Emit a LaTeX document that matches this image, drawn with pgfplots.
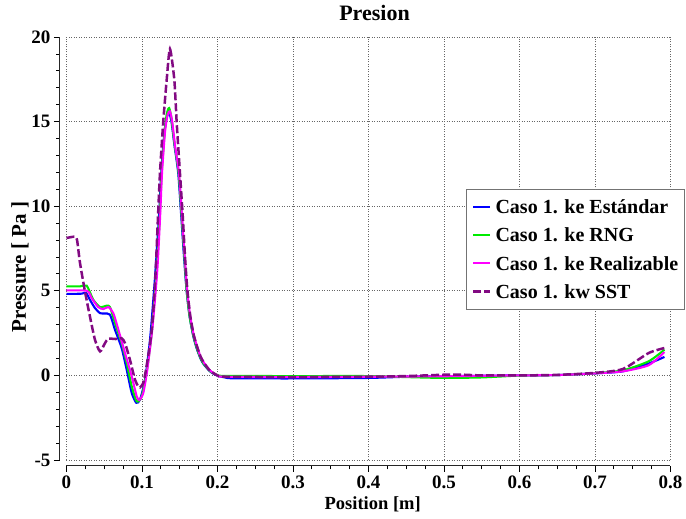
\documentclass[border=0pt]{standalone}
\usepackage{fontspec}
\setmainfont{Liberation Serif}
\usepackage{pgfplots}
\pgfplotsset{compat=1.18}
\definecolor{cblue}{RGB}{0,0,255}
\definecolor{cgreen}{RGB}{0,235,0}
\definecolor{cpink}{RGB}{255,0,255}
\definecolor{cpur}{RGB}{130,10,130}
\begin{document}
\begin{tikzpicture}
\begin{axis}[
 scale only axis, width=604pt, height=423pt,
 xmin=0, xmax=0.8, ymin=-5, ymax=20,
 axis lines=left, axis line style={-, line width=1pt, black!85},
 axis x line shift=6pt, axis y line shift=6.5pt,
 xtick={0,0.1,0.2,0.3,0.4,0.5,0.6,0.7,0.8},
 ytick={-5,0,5,10,15,20},
 minor x tick num=3, minor y tick num=4,
 tick align=outside, major tick length=6pt, minor tick length=3.5pt,
 tick style={black, line width=0.8pt},
 grid=major, major grid style={black!60, line width=0.8pt, dash pattern=on 1pt off 1.5pt},
 /pgf/number format/assume math mode=true,
 ticklabel style={font=\fontsize{19}{21}\selectfont\bfseries},
 title={Presion},
 title style={font=\fontsize{22}{26}\selectfont\bfseries, at={(axis description cs:0.51,1.042)}, anchor=center},
 xlabel={Position [m]},
 xlabel style={font=\fontsize{18.5}{20}\selectfont\bfseries, at={(axis description cs:0.507,-0.104)}, anchor=center},
 ylabel={Pressure [ Pa ]},
 ylabel style={font=\fontsize{21}{24}\selectfont\bfseries, at={(axis description cs:-0.077,0.456)}, anchor=center},
 legend style={at={(axis description cs:0.661,0.641)}, anchor=north west, draw=black!55, line width=1.2pt, fill=white,
   inner xsep=6pt, inner ysep=3.3pt, row sep=0pt, column sep=4pt,
   font=\fontsize{20}{22}\selectfont\bfseries,
   nodes={inner sep=0pt, text height=20.65pt, text depth=7.65pt}},
 legend cell align=left,
 legend image code/.code={\draw[#1, line width=2.2pt] (0pt,0.3pt) -- (17pt,0.3pt);},
]
\addplot[color=cblue, line width=2.1pt, smooth, tension=0.4] coordinates {
(0,4.82)(0.01,4.82)(0.02,4.83)(0.026,4.87)(0.031,4.47)(0.0377,3.98)(0.0444,3.68)(0.05,3.66)(0.0576,3.59)(0.0642,2.7)(0.073,1.62)(0.0797,0.34)(0.0864,-1.04)(0.0925,-1.62)(0.0974,-1.43)(0.104,-0.25)(0.1106,2.11)(0.117,5.65)(0.1225,9.4)(0.1255,11.95)(0.1295,14.3)(0.133,15.3)(0.136,15.5)(0.139,15.0)(0.143,13.6)(0.148,11.95)(0.152,9.4)(0.1555,7.1)(0.159,5.06)(0.163,3.5)(0.168,2.3)(0.1724,1.6)(0.177,1.05)(0.181,0.7)(0.19,0.24)(0.2,-0.02)(0.21,-0.12)(0.22,-0.17)(0.3,-0.18)(0.4,-0.15)(0.45,-0.08)(0.5,-0.05)(0.6,0)(0.65,0.02)(0.7,0.12)(0.737,0.24)(0.771,0.7)(0.792,1.09)
};
\addlegendentry{Caso 1. ke Estándar}
\addplot[color=cgreen, line width=2.1pt, smooth, tension=0.4] coordinates {
(0,5.26)(0.018,5.26)(0.0268,5.3)(0.0355,4.47)(0.0444,4.04)(0.0532,4.12)(0.0576,4.04)(0.0642,3.1)(0.073,1.91)(0.0797,0.73)(0.0864,-0.65)(0.092,-1.45)(0.0945,-1.55)(0.0996,-1.24)(0.106,0.14)(0.1128,2.5)(0.1195,6.24)(0.1235,9.4)(0.126,11.95)(0.13,14.4)(0.133,15.5)(0.136,15.8)(0.139,15.2)(0.143,13.7)(0.1485,11.95)(0.1525,9.4)(0.156,7.1)(0.159,5.1)(0.163,3.5)(0.168,2.35)(0.1724,1.65)(0.177,1.08)(0.181,0.73)(0.19,0.26)(0.2,0.02)(0.21,-0.03)(0.3,-0.04)(0.4,-0.04)(0.45,-0.1)(0.5,-0.15)(0.55,-0.12)(0.6,-0.01)(0.65,0.02)(0.7,0.13)(0.737,0.3)(0.771,0.83)(0.792,1.52)
};
\addlegendentry{Caso 1. ke RNG}
\addplot[color=cpink, line width=2.1pt, smooth, tension=0.4] coordinates {
(0,5.02)(0.027,5.0)(0.0333,4.57)(0.042,4.04)(0.0488,3.92)(0.0554,4.04)(0.062,3.68)(0.0687,2.7)(0.0775,1.32)(0.0864,-0.06)(0.093,-1.24)(0.0965,-1.45)(0.1017,-1.04)(0.107,0.34)(0.114,2.9)(0.1203,6.24)(0.124,9.4)(0.1265,11.95)(0.1305,14.4)(0.134,15.4)(0.137,15.6)(0.14,15.0)(0.144,13.5)(0.149,11.95)(0.153,9.4)(0.1565,7.1)(0.1595,5.2)(0.1635,3.6)(0.1685,2.4)(0.173,1.7)(0.1775,1.12)(0.182,0.75)(0.19,0.3)(0.2,0.0)(0.21,-0.08)(0.3,-0.1)(0.4,-0.08)(0.5,-0.05)(0.6,0)(0.65,0.02)(0.7,0.12)(0.737,0.24)(0.771,0.6)(0.792,1.38)
};
\addlegendentry{Caso 1. ke Realizable}
\addplot[color=cpur, line width=2.5pt, dash pattern=on 8pt off 3pt, smooth, tension=0.4] coordinates {
(0,8.12)(0.011,8.2)(0.014,8.0)(0.0179,6.64)(0.0245,4.96)(0.031,3.49)(0.0377,2.11)(0.0444,1.42)(0.051,1.91)(0.0554,2.17)(0.065,2.15)(0.073,2.2)(0.0775,1.91)(0.084,0.93)(0.0907,-0.25)(0.095,-0.65)(0.0973,-0.71)(0.1017,-0.45)(0.106,0.53)(0.113,2.7)(0.1175,5.6)(0.1208,9.0)(0.1238,11.95)(0.128,14.9)(0.1327,17.47)(0.137,19.3)(0.1428,17.47)(0.146,14.9)(0.1503,11.95)(0.154,9.39)(0.157,7.0)(0.16,5.1)(0.164,3.5)(0.1685,2.4)(0.173,1.7)(0.1775,1.12)(0.182,0.75)(0.19,0.28)(0.2,0.0)(0.21,-0.08)(0.3,-0.1)(0.4,-0.08)(0.45,-0.04)(0.5,0.04)(0.52,0.05)(0.55,0.0)(0.6,0.0)(0.65,0.03)(0.7,0.15)(0.737,0.38)(0.771,1.32)(0.792,1.62)
};
\addlegendentry{Caso 1. kw SST}
\end{axis}
\pgfresetboundingbox
\path (-66.5pt,-59pt) rectangle (619.5pt,460pt);
\end{tikzpicture}
\end{document}
